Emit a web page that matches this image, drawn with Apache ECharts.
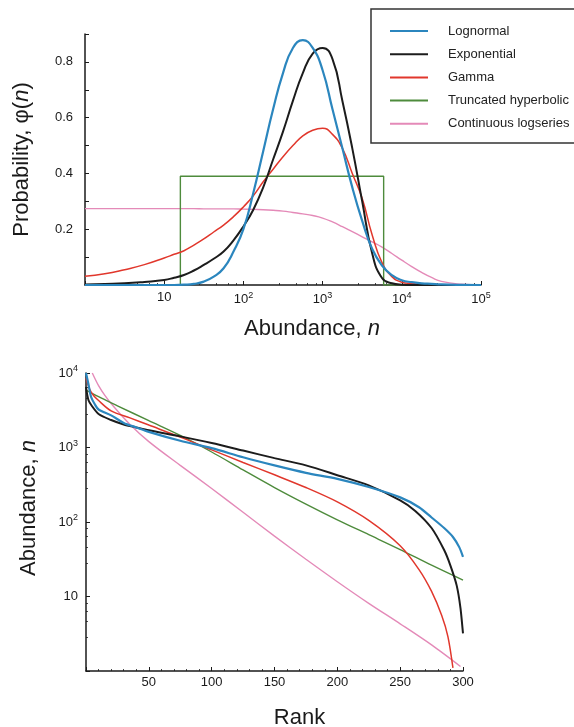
<!DOCTYPE html>
<html>
<head>
<meta charset="utf-8">
<script src="https://cdn.jsdelivr.net/npm/echarts@6/dist/echarts.min.js"></script>
<style>
html, body { margin: 0; padding: 0; background: #fff; }
#chart { width: 574px; height: 727px; }
</style>
</head>
<body>
<div id="chart"></div>
<script>
const seriesNames = ['Lognormal', 'Exponential', 'Gamma', 'Truncated hyperbolic', 'Continuous logseries']
const colors = ['#2b86be', '#1c1c1c', '#e1372c', '#4e8b3c', '#e48ab8']
const widths = [2.2, 2, 1.5, 1.4, 1.4]

// top panel: probability against abundance (abundance read as log10 n)
const logN = [0, 0.25, 0.5, 0.75, 1, 1.125, 1.25, 1.375, 1.5, 1.625, 1.75, 1.875, 2, 2.125, 2.25, 2.375, 2.5, 2.625, 2.75, 2.875, 3, 3.125, 3.25, 3.375, 3.5, 3.625, 3.75, 3.875, 4, 4.125, 4.25, 4.375, 4.5, 4.75, 5]
const probLognormal = [0, 0, 0, 0, 0, 0, 0.001, 0.004, 0.012, 0.03, 0.06, 0.12, 0.2, 0.33, 0.48, 0.63, 0.76, 0.85, 0.878, 0.85, 0.77, 0.63, 0.49, 0.35, 0.23, 0.13, 0.07, 0.035, 0.017, 0.01, 0.006, 0.004, 0.002, 0.0005, 0]
const probExponential = [0.002, 0.004, 0.006, 0.011, 0.018, 0.026, 0.036, 0.052, 0.072, 0.094, 0.12, 0.16, 0.21, 0.27, 0.35, 0.45, 0.55, 0.66, 0.76, 0.83, 0.85, 0.81, 0.66, 0.49, 0.3, 0.115, 0.025, 0.006, 0.001, 0, 0, 0, 0, 0, 0]
const probGamma = [0.031, 0.04, 0.055, 0.073, 0.097, 0.11, 0.123, 0.143, 0.165, 0.19, 0.215, 0.245, 0.28, 0.32, 0.37, 0.415, 0.46, 0.5, 0.535, 0.555, 0.562, 0.54, 0.49, 0.4, 0.31, 0.18, 0.08, 0.03, 0.01, 0.005, 0.002, 0.001, 0, 0, 0]
const probLogseries = [0.274, 0.274, 0.274, 0.274, 0.274, 0.274, 0.274, 0.274, 0.273, 0.273, 0.273, 0.273, 0.272, 0.271, 0.27, 0.268, 0.265, 0.26, 0.255, 0.249, 0.24, 0.226, 0.209, 0.191, 0.173, 0.155, 0.136, 0.113, 0.089, 0.066, 0.045, 0.027, 0.013, 0.003, 0]
const truncN = [1, 16, 16, 5900, 5900, 100000]
const probTruncated = [0, 0, 0.39, 0.39, 0, 0]
const probTicks = [0.2, 0.4, 0.6, 0.8]
const abundanceTicksTop = [10, 100, 1000, 10000, 100000]

// bottom panel: rank-abundance
const rankLognormal = [0, 2, 4, 7, 10, 20, 30, 40, 50, 75, 100, 125, 150, 175, 200, 225, 250, 265, 275, 285, 292, 297, 300]
const abundLognormal = [10000, 7000, 4800, 3800, 3240, 2700, 2140, 1860, 1620, 1230, 980, 740, 575, 457, 380, 295, 214, 158, 115, 83, 63, 46, 34]
const rankExponential = [0, 2, 5, 10, 20, 30, 40, 50, 75, 100, 125, 150, 175, 200, 225, 250, 262, 275, 285, 290, 295, 298, 300]
const abundExponential = [6500, 4300, 3550, 2820, 2340, 2040, 1860, 1700, 1410, 1150, 910, 720, 575, 425, 310, 195, 141, 83, 42, 26, 14, 7, 3.2]
const rankGamma = [0, 3, 6, 10, 20, 35, 50, 75, 100, 125, 150, 175, 200, 225, 250, 265, 275, 283, 288, 292]
const abundGamma = [8500, 6000, 5000, 4270, 3100, 2500, 2000, 1380, 930, 630, 430, 290, 186, 105, 48, 23, 11.7, 5.6, 2.9, 1.1]
const rankTruncated = [0, 10, 25, 50, 75, 100, 125, 150, 175, 200, 225, 250, 275, 300]
const abundTruncated = [5900, 4800, 3630, 2290, 1450, 870, 500, 290, 174, 107, 67.6, 42.7, 26.3, 16.6]
const rankLogseries = [5, 10, 15, 22, 35, 50, 75, 100, 125, 150, 175, 200, 225, 250, 275, 298]
const abundLogseries = [10000, 6760, 5010, 3550, 2040, 1200, 575, 282, 135, 64.6, 31.6, 15.8, 8.1, 4.3, 2.24, 1.15]
const rankTicks = [50, 100, 150, 200, 250, 300]
const abundanceTicksBottom = [10, 100, 1000, 10000]

const font = 'Liberation Sans, Arial, Helvetica, sans-serif'
const ink = '#1a1a1a'

function near (list, v) {
    return list.some(t => Math.abs(t - v) < 1e-6 * Math.max(1, t))
}
function powLabel (list) {
    return v => {
        if (!near(list, v)) return ''
        const e = Math.round(Math.log10(v))
        return e === 1 ? '10' : '10{s|' + e + '}'
    }
}
const supRich = { s: { fontSize: 9, fontFamily: font, color: ink, padding: [0, 0, 8, 0] } }
const titleRich = {
    t: { fontSize: 22, fontFamily: font, color: ink },
    i: { fontSize: 22, fontFamily: font, color: ink, fontStyle: 'italic' }
}
const axisBase = {
    axisLine: { lineStyle: { color: ink, width: 1.5 } },
    axisTick: { inside: true, length: 4, lineStyle: { color: ink, width: 1 } },
    minorTick: { show: true, splitNumber: 5, length: 2, lineStyle: { color: ink, width: 0.8 } },
    splitLine: { show: false },
    minorSplitLine: { show: false },
    axisLabel: { fontSize: 13, fontFamily: font, color: ink, rich: supRich }
}

const chart = echarts.init(document.getElementById('chart'), null, { renderer: 'canvas' })

const topCurves = [probLognormal, probExponential, probGamma, null, probLogseries]
const series = []
seriesNames.forEach((name, k) => {
    const data = k === 3
        ? truncN.map((n, i) => [n, probTruncated[i]])
        : logN.map((e, i) => [Math.pow(10, e), topCurves[k][i]])
    series.push({
        name, type: 'line', xAxisIndex: 0, yAxisIndex: 0, data,
        showSymbol: false, symbol: 'none',
        smooth: k === 3 ? false : 0.5,
        lineStyle: { color: colors[k], width: widths[k] }, itemStyle: { color: colors[k] },
        z: 10 - k, silent: true
    })
})
const bottomRanks = [rankLognormal, rankExponential, rankGamma, rankTruncated, rankLogseries]
const bottomAbund = [abundLognormal, abundExponential, abundGamma, abundTruncated, abundLogseries]
seriesNames.forEach((name, k) => {
    series.push({
        name, type: 'line', xAxisIndex: 1, yAxisIndex: 1,
        data: bottomRanks[k].map((r, i) => [r, bottomAbund[k][i]]),
        showSymbol: false, symbol: 'none', smooth: 0.3,
        lineStyle: { color: colors[k], width: widths[k] }, itemStyle: { color: colors[k] },
        z: 10 - k, silent: true
    })
})

chart.setOption({
    animation: false,
    backgroundColor: '#fff',
    legend: {
        data: seriesNames,
        orient: 'vertical',
        left: 371, top: 9,
        icon: 'rect',
        itemWidth: 38, itemHeight: 2, itemGap: 0.2,
        padding: [10.5, 60, 7.7, 19],
        borderColor: '#333', borderWidth: 1.5,
        selectedMode: false,
        textStyle: { fontSize: 13, lineHeight: 23, fontFamily: font, color: '#222', padding: [0, 0, 0, 15] }
    },
    grid: [
        { left: 85, right: 93, top: 34, bottom: 442, containLabel: false, outerBoundsMode: 'none' },
        { left: 86, right: 111, top: 373, bottom: 56, containLabel: false, outerBoundsMode: 'none' }
    ],
    xAxis: [
        Object.assign({}, axisBase, {
            type: 'log', logBase: 10, min: 1, max: 100000, gridIndex: 0,
            axisLabel: Object.assign({}, axisBase.axisLabel, { margin: 6, formatter: powLabel(abundanceTicksTop) }),
            name: '{t|Abundance, }{i|n}', nameLocation: 'middle', nameGap: 33,
            nameTextStyle: { rich: titleRich, padding: [0, 0, 0, 58] }
        }),
        Object.assign({}, axisBase, {
            type: 'value', min: 0, max: 300, interval: 50, gridIndex: 1,
            axisLabel: Object.assign({}, axisBase.axisLabel, { margin: 5, formatter: v => near(rankTicks, v) ? String(v) : '' }),
            name: '{t|Rank}', nameLocation: 'middle', nameGap: 36,
            nameTextStyle: { rich: titleRich, padding: [0, 0, 0, 50] }
        })
    ],
    yAxis: [
        Object.assign({}, axisBase, {
            type: 'value', min: 0, max: 0.9, interval: 0.1, gridIndex: 0,
            minorTick: { show: false },
            axisLabel: Object.assign({}, axisBase.axisLabel, { margin: 12, formatter: v => near(probTicks, v) ? v.toFixed(1) : '' }),
            name: '{t|Probability, \u03c6(}{i|n}{t|)}', nameLocation: 'middle', nameGap: 52,
            nameTextStyle: { rich: titleRich }
        }),
        Object.assign({}, axisBase, {
            type: 'log', logBase: 10, min: 1, max: 10000, gridIndex: 1,
            axisLabel: Object.assign({}, axisBase.axisLabel, { margin: 8, formatter: powLabel(abundanceTicksBottom) }),
            name: '{t|Abundance, }{i|n}', nameLocation: 'middle', nameGap: 46,
            nameTextStyle: { rich: titleRich, padding: [0, 0, 0, 28] }
        })
    ],
    series
})
window.addEventListener('resize', () => chart.resize())
</script>
</body>
</html>
